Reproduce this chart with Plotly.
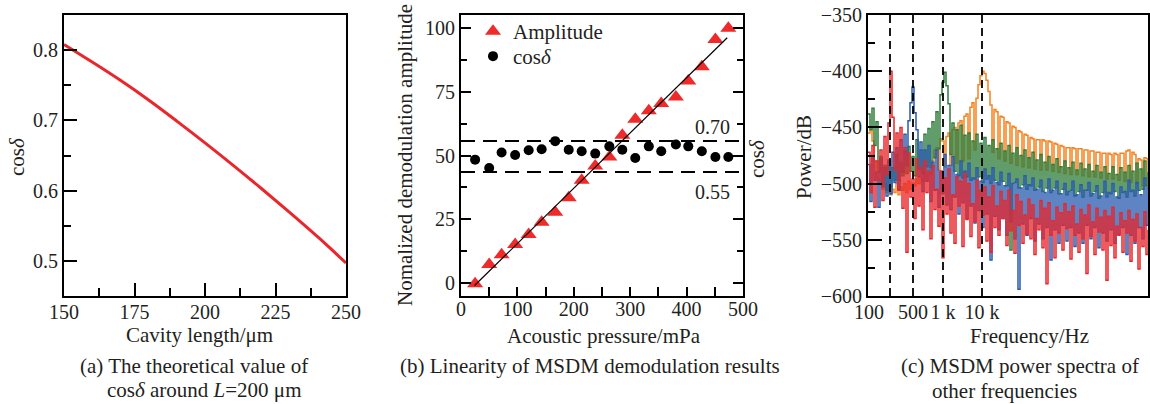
import plotly.graph_objects as go

# ---------------- data ----------------
# (a) theoretical cos(delta) vs cavity length
cavity_len = [150, 160, 170, 180, 190, 200, 210, 220, 230, 240, 250]
cos_theory = [0.808, 0.783, 0.757, 0.729, 0.699, 0.668, 0.636, 0.603, 0.569, 0.534, 0.497]

# (b) linearity of MSDM demodulation
pressure = [25, 50, 72, 96, 120, 143, 167, 191, 214, 238, 263, 286, 309, 333, 355, 381, 403, 427, 451, 474]
amplitude = [-0.2, 7.3, 11.1, 15.2, 19.1, 23.9, 27.8, 33.5, 40.3, 45.9, 49.4, 57.9, 64.2, 67.5, 70.4, 72.9, 79.2, 84.7, 95.4, 99.8]
cos_meas = [0.610, 0.570, 0.644, 0.632, 0.655, 0.660, 0.699, 0.658, 0.650, 0.639, 0.674, 0.658, 0.618, 0.674, 0.650, 0.683, 0.674, 0.650, 0.623, 0.623]
fit_x = [24, 472]
fit_y = [-0.9, 96.1]
cos_limits = [0.70, 0.55]
cos_limit_labels = ["0.70", "0.55"]

# (c) power spectra (frequency bin index 0..280, dB)
freq_bin = list(range(0, 281, 2))
freq_tickvals = [1, 22, 45, 75, 114]
freq_ticktext = ["100", "", "500", "1 k", "10 k"]
freq_marks = [22, 45, 75, 114]

spec_orange = [
    -455, -450, -462, -480, -495, -500, -498, -505, -500, -508,
    -502, -510, -505, -508, -500, -510, -503, -506, -500, -508,
    -498, -505, -500, -502, -496, -500, -495, -498, -490, -496,
    -488, -492, -480, -470, -468, -488, -460, -462, -485, -458,
    -455, -484, -452, -450, -482, -446, -444, -480, -440, -438,
    -478, -432, -428, -470, -424, -412, -404, -400, -402, -408,
    -418, -430, -472, -434, -436, -478, -440, -441, -480, -445,
    -446, -482, -449, -450, -484, -453, -454, -485, -456, -457,
    -486, -459, -460, -487, -461, -461, -488, -461, -462, -488,
    -462, -463, -489, -464, -465, -490, -466, -467, -491, -468,
    -468, -492, -468, -469, -492, -469, -469, -493, -470, -470,
    -494, -471, -471, -494, -472, -472, -495, -473, -473, -496,
    -473, -474, -496, -473, -474, -497, -473, -473, -498, -471,
    -470, -499, -472, -474, -500, -478, -479, -502, -477, -478,
    -505]
spec_green = [
    -438, -452, -433, -466, -445, -490, -476, -501, -484, -506,
    -479, -503, -486, -497, -474, -497, -481, -493, -471, -491,
    -467, -489, -476, -493, -461, -487, -470, -491, -456, -485,
    -451, -486, -445, -477, -436, -469, -421, -410, -401, -413,
    -429, -474, -446, -489, -452, -493, -448, -495, -457, -494,
    -455, -497, -462, -496, -456, -494, -464, -499, -459, -496,
    -466, -500, -461, -497, -469, -501, -464, -498, -471, -502,
    -466, -559, -473, -499, -468, -504, -475, -501, -470, -505,
    -477, -502, -472, -506, -479, -503, -474, -507, -481, -504,
    -476, -508, -483, -504, -478, -509, -485, -505, -480, -510,
    -486, -506, -481, -511, -488, -507, -482, -512, -487, -506,
    -483, -511, -489, -507, -484, -513, -490, -508, -485, -512,
    -491, -509, -485, -507, -492, -513, -486, -508, -490, -512,
    -484, -507, -489, -511, -482, -506, -487, -505, -480, -502,
    -490]
spec_blue = [
    -483, -516, -475, -497, -490, -521, -478, -503, -486, -511,
    -480, -509, -472, -499, -468, -506, -461, -490, -456, -484,
    -444, -428, -414, -437, -452, -494, -463, -507, -470, -498,
    -466, -516, -481, -506, -470, -521, -489, -509, -474, -519,
    -484, -523, -476, -512, -492, -527, -480, -517, -489, -531,
    -482, -520, -495, -535, -486, -524, -498, -539, -487, -527,
    -493, -568, -486, -529, -499, -541, -490, -531, -502, -546,
    -491, -534, -500, -549, -496, -594, -504, -536, -493, -546,
    -501, -531, -495, -551, -505, -536, -497, -549, -508, -539,
    -496, -568, -506, -541, -498, -553, -509, -537, -500, -551,
    -507, -539, -498, -556, -510, -544, -501, -553, -506, -537,
    -499, -549, -509, -539, -502, -557, -511, -544, -498, -551,
    -508, -541, -500, -553, -512, -545, -503, -539, -507, -563,
    -497, -546, -506, -553, -499, -539, -510, -549, -495, -537,
    -503]
spec_red = [
    -472, -508, -466, -521, -480, -497, -470, -515, -458, -492,
    -446, -400, -441, -488, -455, -506, -450, -522, -468, -561,
    -473, -512, -496, -531, -478, -520, -486, -541, -480, -508,
    -490, -549, -484, -523, -505, -538, -489, -566, -495, -527,
    -487, -544, -510, -553, -494, -520, -498, -556, -491, -532,
    -500, -547, -518, -534, -497, -557, -506, -528, -503, -551,
    -512, -561, -502, -539, -520, -546, -507, -531, -515, -555,
    -506, -542, -524, -562, -510, -537, -516, -553, -528, -545,
    -514, -549, -519, -563, -531, -541, -515, -557, -522, -589,
    -517, -546, -533, -566, -521, -544, -526, -559, -518, -540,
    -525, -567, -520, -546, -536, -561, -523, -549, -528, -580,
    -519, -547, -534, -563, -522, -543, -530, -559, -524, -586,
    -529, -555, -521, -566, -538, -546, -526, -561, -533, -544,
    -524, -569, -532, -551, -527, -576, -539, -556, -525, -563,
    -541]

# ---------------- styling helpers ----------------
FONT = "Liberation Serif"
TXT = "#231F20"
RED = "#E8262B"
W, H = 1150, 404


def px_x(p):
    return p / W


def px_y(p):
    return 1 - p / H


y_dom = [px_y(296), px_y(15)]

fig = go.Figure()

# (a)
fig.add_trace(go.Scatter(x=cavity_len, y=cos_theory, mode="lines", line=dict(color=RED, width=3),
                         xaxis="x", yaxis="y", showlegend=False, line_shape="spline"))

# (b)
fig.add_trace(go.Scatter(x=pressure, y=cos_meas, mode="markers", name="cos<i>δ</i>",
                         marker=dict(symbol="circle", size=10, color="black"),
                         xaxis="x2", yaxis="y3", legend="legend2"))
fig.add_trace(go.Scatter(x=pressure, y=amplitude, mode="markers", name="Amplitude",
                         marker=dict(symbol="triangle-up", size=14, color="#EE2A2A"),
                         xaxis="x2", yaxis="y2", legend="legend"))
fig.add_trace(go.Scatter(x=fit_x, y=fit_y, mode="lines", line=dict(color="black", width=1.2),
                         xaxis="x2", yaxis="y2", showlegend=False))

# (c)
for vals, col in [(spec_orange, "#F5821F"), (spec_green, "#2E7D3A"), (spec_blue, "#2A5BB0"), (spec_red, RED)]:
    fig.add_trace(go.Scatter(x=freq_bin, y=vals, mode="lines", line=dict(color=col, width=1.5),
                             line_shape="hv", xaxis="x3", yaxis="y4", showlegend=False))

tickfont = dict(family=FONT, size=20, color=TXT)
axis_common = dict(showline=True, linecolor="black", linewidth=2, showgrid=False, zeroline=False,
                   ticks="inside", tickcolor="black", tickwidth=2, tickfont=tickfont, automargin=False)

legend_common = dict(xanchor="left", yanchor="top", bgcolor="rgba(0,0,0,0)",
                     font=dict(family=FONT, size=21, color=TXT), itemwidth=30)

fig.update_layout(
    width=W, height=H, margin=dict(l=0, r=0, t=0, b=0),
    plot_bgcolor="white", paper_bgcolor="white",
    font=dict(family=FONT, size=21, color=TXT),
    xaxis=dict(axis_common, domain=[px_x(64), px_x(346)], anchor="y", range=[150, 250],
               tickvals=[150, 175, 200, 225, 250], ticklen=13, mirror=True, ticklabelstandoff=-3,
               minor=dict(ticks="inside", dtick=12.5, tick0=150, ticklen=8, tickcolor="black", tickwidth=2)),
    yaxis=dict(axis_common, domain=y_dom, anchor="x", range=[0.45, 0.85],
               tickvals=[0.5, 0.6, 0.7, 0.8], ticklen=13, mirror=True,
               minor=dict(ticks="inside", dtick=0.05, tick0=0.45, ticklen=7, tickcolor="black", tickwidth=2)),
    xaxis2=dict(axis_common, domain=[px_x(461), px_x(743)], anchor="y2", range=[0, 500],
                tickvals=[0, 100, 200, 300, 400, 500], ticklen=9, mirror=True, ticklabelstandoff=-6,
                minor=dict(ticks="inside", dtick=50, tick0=0, ticklen=9, tickcolor="black", tickwidth=2)),
    yaxis2=dict(axis_common, domain=y_dom, anchor="x2", range=[-5, 105],
                tickvals=[0, 25, 50, 75, 100], ticklen=10, mirror="ticks",
                minor=dict(ticks="inside", dtick=12.5, tick0=0, ticklen=6, tickcolor="black", tickwidth=2)),
    yaxis3=dict(overlaying="y2", anchor="x2", side="right", range=[-0.0463, 1.3062],
                showticklabels=False, ticks="", showline=False, showgrid=False, zeroline=False),
    xaxis3=dict(axis_common, domain=[px_x(868), px_x(1148)], anchor="y4", range=[0, 280],
                tickvals=freq_tickvals, ticktext=freq_ticktext, ticklen=0, mirror=True,
                ticklabelstandoff=-3),
    yaxis4=dict(axis_common, domain=y_dom, anchor="x3", range=[-600, -350],
                tickvals=[-600, -550, -500, -450, -400, -350], ticklen=14, mirror=True,
                minor=dict(ticks="inside", dtick=25, tick0=-600, ticklen=7, tickcolor="black", tickwidth=2)),
    legend=dict(legend_common, x=px_x(473), y=px_y(11)),
    legend2=dict(legend_common, x=px_x(473), y=px_y(36)),
)

# reference lines in (b)
for v in cos_limits:
    fig.add_shape(type="line", xref="x2 domain", yref="y3", x0=0, x1=1, y0=v, y1=v,
                  line=dict(color="black", width=2, dash="14px,8px"))
# dashed marker lines in (c)
for f in freq_marks:
    fig.add_shape(type="line", xref="x3", yref="y4 domain", x0=f, x1=f, y0=0, y1=1,
                  line=dict(color="black", width=1.8, dash="8px,5px"), layer="above")


def ann(text, x, y, angle=0, size=21):
    fig.add_annotation(text=text, x=px_x(x), y=px_y(y), xref="paper", yref="paper",
                       showarrow=False, textangle=angle, xanchor="center", yanchor="middle",
                       font=dict(family=FONT, size=size, color=TXT))


# limit labels
ann(cos_limit_labels[0], 712, 127, size=20)
ann(cos_limit_labels[1], 712, 192, size=20)

# axis titles
ann("cos<i>δ</i>", 17, 157, -90)
ann("Cavity length/μm", 199, 335)
ann("Nomalized demodulation amplitude", 405, 155, -90)
ann("cos<i>δ</i>", 757, 159, -90)
ann("Acoustic pressure/mPa", 604, 336)
ann("Power/dB", 804, 157, -90)
ann("Frequency/Hz", 1029, 336)

# captions
ann("(a) The theoretical value of", 194, 366)
ann("cos<i>δ</i> around <i>L</i>=200 μm", 204, 390)
ann("(b) Linearity of MSDM demodulation results", 590, 366)
ann("(c) MSDM power spectra of", 1020, 366)
ann("other frequencies", 1004, 391)

fig.write_html("out.html")
